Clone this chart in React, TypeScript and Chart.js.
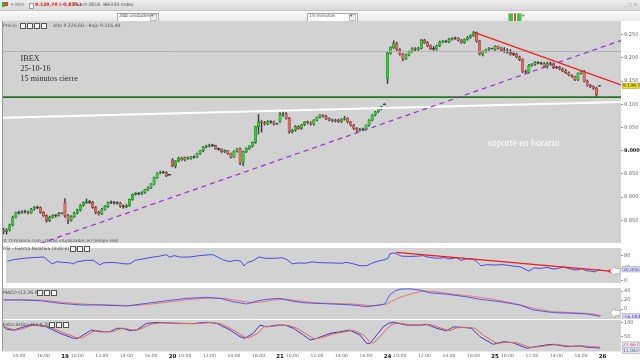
import React, { useEffect, useRef } from 'react';
import { Chart, registerables } from 'chart.js';

Chart.register(...registerables);

// ---------------- DATA ----------------
// time axis: one slot per 15-minute bar, 35 slots per session (09:00 .. 17:30)
// 18-oct starts at 12:45 (slot 0)
const sessionFirstSlot = [0, 20, 55, 90, 125, 160];
const slotMin = -0.5;
const slotMax = 201;

// [open, high, low, close]
const ohlc18 = [
  [8829, 8833, 8821, 8826], [8826, 8832, 8820, 8829], [8829, 8842, 8827, 8840], [8840, 8859, 8838, 8857],
  [8857, 8868, 8855, 8866], [8866, 8870, 8863, 8867], [8867, 8871, 8865, 8869], [8869, 8872, 8866, 8868],
  [8868, 8870, 8864, 8866], [8866, 8876, 8865, 8874], [8874, 8880, 8872, 8878], [8878, 8881, 8875, 8877],
  [8877, 8879, 8865, 8867], [8867, 8869, 8858, 8860], [8860, 8862, 8846, 8849], [8849, 8859, 8847, 8857],
  [8857, 8862, 8855, 8860], [8860, 8863, 8857, 8861], [8861, 8867, 8859, 8865], [8865, 8866, 8864, 8865],
];
const ohlc19 = [
  [8888, 8897, 8856, 8860], [8860, 8863, 8843, 8850], [8850, 8860, 8848, 8858], [8858, 8868, 8856, 8866],
  [8866, 8874, 8864, 8872], [8872, 8884, 8870, 8882], [8882, 8890, 8880, 8888], [8888, 8896, 8886, 8890],
  [8890, 8893, 8886, 8889], [8889, 8891, 8876, 8878], [8878, 8880, 8864, 8867], [8867, 8870, 8861, 8864],
  [8864, 8876, 8862, 8874], [8874, 8882, 8872, 8880], [8880, 8890, 8878, 8888], [8888, 8892, 8886, 8889],
  [8889, 8891, 8885, 8888], [8888, 8890, 8885, 8887], [8887, 8889, 8878, 8880], [8880, 8883, 8876, 8879],
  [8879, 8884, 8877, 8882], [8882, 8896, 8880, 8895], [8895, 8907, 8893, 8906], [8906, 8910, 8904, 8908],
  [8908, 8910, 8905, 8907], [8907, 8912, 8905, 8910], [8910, 8917, 8908, 8916], [8916, 8922, 8914, 8920],
  [8920, 8929, 8918, 8928], [8928, 8943, 8926, 8942], [8942, 8953, 8940, 8952], [8952, 8956, 8950, 8954],
  [8954, 8956, 8951, 8953], [8953, 8955, 8944, 8946], [8948, 8949, 8947, 8948],
];
const ohlc20 = [
  [8980, 8983, 8965, 8968], [8968, 8979, 8963, 8978], [8978, 8986, 8976, 8984], [8984, 8986, 8979, 8980],
  [8980, 8986, 8978, 8985], [8985, 8987, 8981, 8983], [8983, 8988, 8981, 8987], [8987, 8989, 8984, 8986],
  [8986, 8995, 8985, 8994], [8994, 9001, 8992, 9000], [9000, 9009, 8998, 9008], [9008, 9012, 9006, 9010],
  [9010, 9014, 9008, 9012], [9012, 9014, 9009, 9011], [9011, 9012, 9003, 9004], [9004, 9006, 9001, 9003],
  [9003, 9004, 8996, 8998], [8998, 9002, 8996, 9000], [9000, 9001, 8992, 8994], [8994, 8995, 8984, 8986],
  [8986, 9000, 8985, 8999], [8999, 9005, 8997, 9004], [9004, 9006, 8970, 8973], [8973, 8999, 8968, 8998],
  [8998, 9006, 8996, 9005], [9005, 9011, 9003, 9010], [9010, 9019, 9008, 9018], [9018, 9053, 9016, 9052],
  [9052, 9078, 9036, 9062], [9062, 9065, 9040, 9060], [9060, 9063, 9055, 9058], [9058, 9065, 9056, 9063],
  [9063, 9065, 9059, 9062], [9062, 9064, 9055, 9057], [9058, 9059, 9057, 9058],
];
const ohlc21 = [
  [9063, 9082, 9061, 9078], [9078, 9084, 9074, 9080], [9080, 9082, 9068, 9070], [9070, 9072, 9037, 9041],
  [9041, 9046, 9038, 9044], [9044, 9054, 9042, 9052], [9052, 9054, 9046, 9048], [9048, 9057, 9046, 9056],
  [9056, 9063, 9054, 9062], [9062, 9064, 9058, 9060], [9060, 9062, 9055, 9057], [9057, 9067, 9055, 9066],
  [9066, 9073, 9064, 9072], [9072, 9078, 9070, 9076], [9076, 9078, 9072, 9074], [9074, 9076, 9067, 9069],
  [9069, 9071, 9064, 9066], [9066, 9068, 9062, 9064], [9064, 9068, 9062, 9066], [9066, 9068, 9061, 9063],
  [9063, 9069, 9061, 9068], [9068, 9074, 9066, 9070], [9070, 9071, 9060, 9062], [9062, 9063, 9053, 9055],
  [9055, 9057, 9046, 9048], [9048, 9050, 9041, 9044], [9044, 9048, 9042, 9046], [9046, 9049, 9043, 9047],
  [9047, 9056, 9045, 9055], [9055, 9067, 9053, 9066], [9066, 9078, 9064, 9077], [9077, 9085, 9075, 9084],
  [9084, 9091, 9082, 9090], [9090, 9096, 9088, 9095], [9100, 9101, 9099, 9100],
];
const ohlc24 = [
  [9156, 9212, 9145, 9210], [9210, 9224, 9208, 9222], [9222, 9237, 9220, 9232], [9232, 9234, 9216, 9218],
  [9218, 9220, 9206, 9208], [9208, 9210, 9194, 9198], [9198, 9208, 9196, 9206], [9206, 9215, 9204, 9214],
  [9214, 9222, 9212, 9220], [9220, 9222, 9215, 9218], [9218, 9223, 9216, 9221], [9221, 9240, 9219, 9238],
  [9238, 9240, 9231, 9233], [9233, 9235, 9224, 9226], [9226, 9228, 9218, 9220], [9220, 9225, 9216, 9219],
  [9219, 9228, 9217, 9226], [9226, 9236, 9224, 9234], [9234, 9238, 9232, 9236], [9236, 9238, 9233, 9235],
  [9235, 9242, 9233, 9240], [9240, 9244, 9238, 9242], [9242, 9245, 9240, 9243], [9243, 9244, 9236, 9238],
  [9238, 9240, 9231, 9233], [9233, 9241, 9231, 9240], [9240, 9246, 9238, 9244], [9244, 9250, 9242, 9248],
  [9248, 9257, 9246, 9254], [9254, 9256, 9234, 9236], [9236, 9238, 9206, 9208], [9208, 9215, 9204, 9214],
  [9214, 9219, 9212, 9218], [9218, 9222, 9216, 9220], [9220, 9221, 9219, 9220],
];
const ohlc25 = [
  [9218, 9226.6, 9216, 9225], [9225, 9226, 9219, 9221], [9221, 9223, 9214, 9216], [9216, 9222, 9212, 9214],
  [9214, 9220, 9210, 9212], [9212, 9218, 9206, 9208], [9208, 9211, 9205, 9209], [9209, 9210, 9200, 9202],
  [9202, 9204, 9194, 9196], [9196, 9198, 9168, 9171], [9171, 9174, 9166, 9169], [9169, 9186, 9167, 9184],
  [9184, 9188, 9182, 9186], [9186, 9192, 9184, 9190], [9190, 9192, 9187, 9189], [9189, 9191, 9186, 9188],
  [9188, 9190, 9180, 9182], [9182, 9191, 9178, 9189], [9189, 9191, 9185, 9187], [9187, 9189, 9177, 9179],
  [9179, 9182, 9177, 9180], [9180, 9182, 9174, 9176], [9176, 9178, 9170, 9172], [9172, 9175, 9166, 9168],
  [9168, 9170, 9161, 9163], [9163, 9164, 9158, 9160], [9160, 9161, 9151, 9153], [9153, 9168, 9151, 9167],
  [9167, 9173, 9165, 9171], [9171, 9173, 9148, 9150], [9150, 9152, 9139, 9141], [9141, 9143, 9136, 9138],
  [9138, 9140, 9132, 9135], [9135, 9137, 9116.4, 9121], [9139.7, 9140.5, 9139, 9139.7],
];
const sessions = [ohlc18, ohlc19, ohlc20, ohlc21, ohlc24, ohlc25];

const priceTicks = [8850, 8900, 8950, 9000, 9050, 9100, 9150, 9200, 9250];
const lastPrice = 9139.7;
const lastPriceLabel = '9.139,70';

// drawn lines: [slot, price]
const supportLine = [[slotMin, 9115.3], [slotMax, 9115.3]];
const greyLine = [[slotMin, 9213.8], [slotMax, 9213.8]];
const whiteLine = [[slotMin, 9071], [slotMax, 9105]];
const purpleLine = [[11.9, 8800], [slotMax, 9237.5]];
const redLine = [[153.2, 9255], [slotMax, 9141.6]];

// RSI (14): [slot, value]
const rsiPoints = [[0,62],[2,67.6],[5.4,72],[8.6,74.6],[11.9,76],[14.6,54],[16.2,61],[18.4,58.7],[20.6,57],[21.6,54],[22.7,60.5],[25.4,65],[28.1,65.8],[30.3,50],[31.4,57],[33.6,58.7],[36.3,57],[38.5,54],[40.1,54],[41.7,65],[44.4,70],[47.7,76],[49.9,79],[52,84],[53.1,76],[54.7,80.7],[56.4,76],[59.6,76],[62.9,80.7],[67.2,84],[68.8,76],[70.5,67.6],[72.6,61],[74.8,65.8],[76.4,63],[77.5,47],[78.6,58.7],[80.2,63],[82.4,76],[84.6,72],[87.8,72],[90,74],[91.6,67.6],[93.3,54],[95.4,57],[97.6,56],[99.8,60.5],[102,58],[106.3,57],[109.5,56],[111.2,58.7],[113.3,54],[115.5,48],[117.7,48],[119.3,56],[121.5,63],[123.6,67.6],[124.7,72],[125.3,86.8],[126.4,89.5],[127.4,86.8],[129,79],[131.8,78],[134.5,79],[136.1,80.7],[137.7,76],[140.5,72],[143.2,74],[144.8,70],[147,74],[148.6,65],[150.2,70],[152.4,70],[154,58.7],[155.1,48],[157.3,51.6],[159.4,50],[162.2,51.6],[164.9,48],[168.1,44],[170.8,30.7],[172.5,41],[174.6,39],[176.8,43],[179,36.8],[180.6,40],[182.2,44],[183.8,39],[185.5,35],[187.1,35],[188.2,39],[189.3,32.5],[190.9,30.7],[192.5,28],[194.2,36.8]];
const rsiTrend = [[127.4, 91.3], [197.4, 30.8]];
const rsiTicks = [0, 20, 40, 60, 80, 100];
const rsiLabel = '30,006';

// MACD (12,26,9)
const macdPoints = [[0,20],[5.4,20],[11.9,18.5],[18.4,12.6],[25.4,8.9],[31.4,8.9],[40.1,6.7],[46.6,12.6],[53.1,18.5],[59.6,23.7],[66.1,26],[70.5,23.7],[74.8,16.3],[79.1,11.1],[82.4,17.8],[85.6,21.5],[90,23.7],[93.2,18.5],[97.6,14],[102,12.6],[109.5,10.4],[113.8,8.9],[118.2,5.2],[122.5,8.9],[124.1,11.1],[125.7,31],[127.4,40],[129,44],[132.2,45],[135.5,42],[138.8,36],[144.2,33],[150.8,27],[155.1,21.5],[161.6,16.3],[168.1,8.9],[172.5,-2.2],[179,-8],[185.5,-9.6],[189.8,-11],[194.2,-16.1]];
const signalPoints = [[0,21],[6,21],[13,19.5],[20,14.5],[27,10.5],[33,9.5],[42,7.5],[48,11],[55,16.5],[61,21.5],[67,24.5],[72,23.5],[77,18],[81,13.5],[84,16],[88,20],[92,22],[96,18],[100,15],[103,13.3],[113.8,11],[120.3,7.4],[124.7,11],[129,26],[133.3,35],[136.6,40],[139.9,39],[146.4,33],[152.9,28],[159.4,21.5],[165.9,13],[172.5,1.5],[179,-6],[185.5,-8],[192,-11],[194.7,-15]];
const macdTicks = [0, 20, 40];
const macdLast = -16.083;
const macdLabel = '-16,083';

// Estocástico (14-6.3)
const stochKPoints = [[0,84],[1,76],[3.2,72],[5.4,80],[9.2,92],[14,84],[18.4,61.7],[22.7,44.5],[24.3,44.5],[25.9,56],[28.6,73],[31.4,67],[34.6,67],[36.8,79],[38.9,79],[41.1,70.7],[43.3,73],[46.6,96],[49.9,99],[56.4,96],[61.8,95],[66.1,100],[69.4,96],[73.7,73],[77,50],[78.6,44.5],[81.3,61.7],[83.5,90],[85.6,84],[88.9,90],[91.6,90],[94.3,79],[97.6,56],[99.8,38.6],[102,44.5],[106.3,61.7],[109.5,67],[112.7,73],[116,56],[118.2,27],[119.3,27],[121.5,56],[123.6,84],[125.3,96],[126.9,100],[131.2,90],[135.5,90],[137.7,93],[141,79],[144.2,70],[146.4,84],[149.7,82],[152.4,79],[155.1,50],[159.4,23.7],[162.7,32.8],[165.9,29],[170.3,10],[173.5,16],[176.8,22],[179,23.7],[183.3,16],[187.7,18],[189.8,14],[194.2,11]];
const stochDPoints = [[0,86],[1.5,79],[4,73],[6.5,78],[9.5,90],[14.5,86],[19.5,64],[23.7,47],[25.5,46],[27.5,58],[30,72],[32.5,68],[35.5,67],[38,77],[40,78],[42.2,72],[44.5,76],[48,93],[51,98],[57.5,96],[63,95],[67.3,99],[70.6,95],[75,72],[78.2,50],[79.8,46],[82.6,60],[84.8,85],[86.8,85],[90.1,89],[92.8,89],[95.5,79],[98.8,58],[101,42],[103.5,47],[107.5,60],[110.7,66],[113.9,72],[117.2,56],[119.4,30],[120.5,29],[122.7,52],[124.8,78],[126.5,92],[128.1,98],[132.4,91],[136.7,90],[138.9,92],[142.2,80],[145.4,71],[147.6,81],[150.9,82],[153.6,79],[156.3,54],[160.6,27],[163.9,31],[167.1,29],[171.5,13],[174.7,16],[178,21],[180.2,23],[184.5,17],[188.9,18],[191,15],[194.2,14]];
const stochTicks = [50, 100];
const stochLabels = [[22.667, '22,667'], [11.042, '11,042']];

// x axis labels
const xTickSlots = [5, 13, 20, 24, 32, 40, 48, 55, 59, 67, 75, 83, 90, 94, 102, 110, 118, 125, 129, 137, 145, 153, 160, 164, 172, 180, 188, 195];
const xTickLabels = ['14:00', '16:00', '19', '10:00', '12:00', '14:00', '16:00', '20', '10:00', '12:00', '14:00', '16:00', '21', '10:00', '12:00', '14:00', '16:00', '24', '10:00', '12:00', '14:00', '16:00', '25', '10:00', '12:00', '14:00', '16:00', '26'];

// ---------------- STYLE HELPERS ----------------
const FONT = 'DejaVu Sans';
const PANEL = '#d2d2d2';

const toXY = (pts: number[][]) => pts.map((p) => ({ x: p[0], y: p[1] }));

const panelBg = {
  id: 'panelBg',
  beforeDraw(chart: any) {
    const a = chart.chartArea;
    const ctx = chart.ctx;
    ctx.save();
    ctx.fillStyle = PANEL;
    ctx.fillRect(a.left, a.top, a.right - a.left, a.bottom - a.top);
    ctx.restore();
  },
};

function valueBox(chart: any, y: number, text: string, color: string, bg: string) {
  const ctx = chart.ctx;
  const a = chart.chartArea;
  const x0 = a.right + 1;
  const w = chart.width - x0 - 0.5;
  ctx.save();
  ctx.fillStyle = bg;
  ctx.fillRect(x0, y - 3, w, 6);
  ctx.strokeStyle = '#9a9aaa';
  ctx.lineWidth = 0.5;
  ctx.strokeRect(x0 + 0.25, y - 2.75, w - 0.5, 5.5);
  ctx.fillStyle = color;
  ctx.font = `4.5px "${FONT}"`;
  ctx.textBaseline = 'middle';
  ctx.fillText(text, x0 + 1, y + 0.3);
  ctx.restore();
}

function arrow(chart: any, y: number) {
  const ctx = chart.ctx;
  const x = chart.chartArea.right - 11;
  ctx.save();
  ctx.beginPath();
  ctx.moveTo(x, y);
  ctx.lineTo(x + 5, y - 5);
  ctx.lineTo(x + 5, y - 2.5);
  ctx.lineTo(x + 10, y - 2.5);
  ctx.lineTo(x + 10, y + 2.5);
  ctx.lineTo(x + 5, y + 2.5);
  ctx.lineTo(x + 5, y + 5);
  ctx.closePath();
  ctx.fillStyle = '#ffffff';
  ctx.fill();
  ctx.strokeStyle = '#a8a8a8';
  ctx.lineWidth = 0.7;
  ctx.stroke();
  ctx.restore();
}

function yAxis(min: number, max: number, ticks: number[], fmt: (v: number) => string, bold?: number) {
  return {
    position: 'right',
    min,
    max,
    afterBuildTicks: (s: any) => {
      s.ticks = ticks.map((v) => ({ value: v }));
    },
    afterFit: (s: any) => {
      s.width = 19;
      s.paddingTop = 0;
      s.paddingBottom = 0;
    },
    grid: { drawOnChartArea: false, tickLength: 2, color: '#9a9a9a' },
    border: { display: false },
    ticks: {
      padding: 1,
      color: (c: any) => (bold !== undefined && c.tick && c.tick.value === bold ? '#111' : '#666'),
      font: (c: any) => ({ family: FONT, size: 5, weight: bold !== undefined && c.tick && c.tick.value === bold ? 'bold' : 'normal' }),
      callback: (v: any) => fmt(Number(v)),
    },
  };
}

const hiddenX = {
  type: 'linear',
  min: slotMin,
  max: slotMax,
  display: false,
  offset: false,
  grid: { offset: false },
  afterFit: (s: any) => {
    s.paddingLeft = 0;
    s.paddingRight = 0;
  },
};

const lineDs = (pts: number[][], color: string, width: number, extra: any = {}) => ({
  type: 'line',
  data: toXY(pts),
  borderColor: color,
  borderWidth: width,
  pointRadius: 0,
  tension: 0,
  fill: false,
  ...extra,
});

const baseOpts = {
  responsive: false,
  animation: false,
  maintainAspectRatio: false,
  layout: { padding: 0 },
  plugins: { legend: { display: false }, tooltip: { enabled: false } },
  events: [],
};

// ---------------- COMPONENT ----------------
export default function App() {
  const mainRef = useRef<HTMLCanvasElement>(null);
  const rsiRef = useRef<HTMLCanvasElement>(null);
  const macdRef = useRef<HTMLCanvasElement>(null);
  const stochRef = useRef<HTMLCanvasElement>(null);

  useEffect(() => {
    const charts: Chart[] = [];

    const candles: { x: number; o: number; h: number; l: number; c: number }[] = [];
    sessions.forEach((s, di) =>
      s.forEach((b, i) => candles.push({ x: sessionFirstSlot[di] + i, o: b[0], h: b[1], l: b[2], c: b[3] }))
    );
    const isDoji = (k: any) => Math.abs(k.c - k.o) < 1.6;
    const bodyData = candles.map((k) => {
      const lo = Math.min(k.o, k.c);
      const hi = Math.max(k.o, k.c);
      const m = (lo + hi) / 2;
      return { x: k.x, y: isDoji(k) ? [m - 0.9, m + 0.9] : [lo, hi] };
    });
    const bodyFill = candles.map((k) => (isDoji(k) ? '#4a4a4a' : k.c > k.o ? '#36cf36' : '#e06a6a'));
    const bodyEdge = candles.map((k) => (isDoji(k) ? '#333333' : k.c > k.o ? '#1e7a1e' : '#8a3434'));
    const wickData = candles.map((k) => ({ x: k.x, y: [k.l, k.h] }));

    const priceFmt = (v: number) => {
      const s = v.toFixed(0);
      return s[0] + '.' + s.slice(1);
    };

    // ---- main price chart (line base type so the x axis keeps no offset)
    charts.push(
      new Chart(mainRef.current as HTMLCanvasElement, {
        type: 'line',
        data: {
          datasets: [
            lineDs(redLine, '#ee1c1c', 1.2),
            lineDs(purpleLine, '#9a2fd0', 1.2, { borderDash: [5, 4] }),
            lineDs(supportLine, '#1f7a1f', 1.8),
            lineDs(whiteLine, '#ffffff', 1.8),
            lineDs(greyLine, '#acacac', 0.8),
            {
              type: 'bar',
              data: bodyData,
              backgroundColor: bodyFill,
              borderColor: bodyEdge,
              borderWidth: 0.5,
              borderSkipped: false,
              barThickness: 2.5,
              grouped: false,
            },
            {
              type: 'bar',
              data: wickData,
              backgroundColor: '#3a3a3a',
              borderWidth: 0,
              barThickness: 0.8,
              grouped: false,
            },
          ] as any,
        },
        options: {
          ...baseOpts,
          scales: {
            x: hiddenX,
            y: yAxis(8801.1, 9279.5, priceTicks, priceFmt, 9000),
          },
        } as any,
        plugins: [
          panelBg,
          {
            id: 'priceBox',
            afterDraw(chart: any) {
              const y = chart.scales.y.getPixelForValue(lastPrice);
              valueBox(chart, y, lastPriceLabel, '#222', '#f2e21a');
            },
          },
        ],
      })
    );

    // ---- RSI
    charts.push(
      new Chart(rsiRef.current as HTMLCanvasElement, {
        type: 'line',
        data: {
          datasets: [
            lineDs(rsiTrend, '#ee1c1c', 1.2, { pointRadius: [0, 1.6], pointBackgroundColor: '#ee1c1c', pointBorderWidth: 0 }),
            lineDs(rsiPoints, '#3a3ae6', 0.9),
          ] as any,
        },
        options: {
          ...baseOpts,
          scales: { x: hiddenX, y: yAxis(-7.9, 105.3, rsiTicks, (v) => String(v)) },
        } as any,
        plugins: [
          panelBg,
          {
            id: 'rsiBox',
            afterDraw(chart: any) {
              const ys = chart.scales.y;
              arrow(chart, ys.getPixelForValue(rsiTrend[1][1]));
              valueBox(chart, ys.getPixelForValue(rsiPoints[rsiPoints.length - 1][1]), rsiLabel, '#3a3ad0', '#e2e2f2');
            },
          },
        ],
      })
    );

    // ---- MACD
    charts.push(
      new Chart(macdRef.current as HTMLCanvasElement, {
        type: 'line',
        data: {
          datasets: [
            lineDs(macdPoints, '#4a4ae8', 0.9),
            lineDs(signalPoints, '#e87070', 0.9),
          ] as any,
        },
        options: {
          ...baseOpts,
          scales: { x: hiddenX, y: yAxis(-22.2, 46.7, macdTicks, (v) => String(v)) },
        } as any,
        plugins: [
          panelBg,
          {
            id: 'macdBox',
            afterDraw(chart: any) {
              const ys = chart.scales.y;
              arrow(chart, ys.getPixelForValue(-9));
              valueBox(chart, ys.getPixelForValue(macdLast), macdLabel, '#3a3ad0', '#e2e2f2');
            },
          },
        ],
      })
    );

    // ---- Stochastic + time axis
    charts.push(
      new Chart(stochRef.current as HTMLCanvasElement, {
        type: 'line',
        data: {
          datasets: [
            lineDs(stochDPoints, '#d86464', 1),
            lineDs(stochKPoints, '#3c3cb8', 1),
          ] as any,
        },
        options: {
          ...baseOpts,
          scales: {
            x: {
              type: 'linear',
              min: slotMin,
              max: slotMax,
              position: 'bottom',
              offset: false,
              afterBuildTicks: (s: any) => {
                s.ticks = xTickSlots.map((v) => ({ value: v }));
              },
              afterFit: (s: any) => {
                s.height = 10.5;
                s.paddingLeft = 0;
                s.paddingRight = 0;
              },
              grid: { display: false, drawTicks: false },
              border: { display: false },
              ticks: {
                autoSkip: false,
                maxRotation: 0,
                padding: 2,
                callback: (_v: any, i: number) => xTickLabels[i],
                color: (c: any) => (xTickLabels[c.index] && xTickLabels[c.index].length <= 2 ? '#111' : '#666'),
                font: (c: any) => {
                  const day = xTickLabels[c.index] && xTickLabels[c.index].length <= 2;
                  return { family: FONT, size: day ? 5.5 : 4.5, weight: day ? 'bold' : 'normal' };
                },
              },
            },
            y: yAxis(-1, 107.6, stochTicks, (v) => String(v)),
          },
        } as any,
        plugins: [
          panelBg,
          {
            id: 'stochBox',
            afterDraw(chart: any) {
              const ys = chart.scales.y;
              let prev = -100;
              stochLabels.forEach((s, i) => {
                let y = ys.getPixelForValue(s[0] as number);
                if (y < prev + 6) y = prev + 6;
                prev = y;
                valueBox(chart, y, s[1] as string, i === 0 ? '#c04848' : '#3a3a90', '#ececf4');
              });
            },
          },
        ],
      })
    );

    return () => charts.forEach((c) => c.destroy());
  }, []);

  const t = (left: number, top: number, text: string, style: any = {}) => (
    <div style={{ position: 'absolute', left, top, fontSize: 4.6, lineHeight: '6px', color: '#555', whiteSpace: 'nowrap', ...style }}>{text}</div>
  );
  const iconBox = (left: number, top: number) => (
    <div style={{ position: 'absolute', left, top, width: 4, height: 4, border: '0.6px solid #555', background: '#f4f4f4' }} />
  );

  return (
    <div style={{ position: 'fixed', left: 0, top: 0, width: 640, height: 362, background: '#ffffff', overflow: 'hidden', fontFamily: FONT }}>
      {/* title bar */}
      <div style={{ position: 'absolute', left: 0, top: 0, width: 640, height: 10, background: 'linear-gradient(#ededed, #d9d9d9)', borderBottom: '1px solid #c4c4c4' }} />
      <div style={{ position: 'absolute', left: 2, top: 2, width: 3, height: 5, background: '#2fb52f' }} />
      <div style={{ position: 'absolute', left: 5, top: 1.5, width: 3, height: 4, background: '#e04040' }} />
      {t(11, 2, '▾ INDI', { color: '#777' })}
      <div style={{ position: 'absolute', left: 29, top: 2.5, width: 3, height: 4, border: '0.6px solid #999', background: '#fff' }} />
      {t(35, 2, '9.139,70 (-0,83%)', { color: '#e01515', fontWeight: 'bold' })}
      {t(72, 2, '25-oct-2016', { color: '#444' })}
      {t(103, 2, 'IBEX35 Index', { color: '#444' })}
      {t(624, 1.5, '_ □ ×', { color: '#888' })}

      {/* toolbar */}
      <div style={{ position: 'absolute', left: 0, top: 11, width: 640, height: 10, background: 'linear-gradient(#fbfbfb, #e9e9e9)' }} />
      <div style={{ position: 'absolute', left: 117, top: 12.5, width: 40, height: 7, border: '0.6px solid #aaa', background: '#fff' }} />
      {t(119, 13, '200 unidades', { color: '#444' })}
      <div style={{ position: 'absolute', left: 150, top: 13.5, width: 5, height: 5, border: '0.6px solid #bbb', background: '#eee' }} />
      {t(151, 13, '▾', { color: '#555' })}
      <div style={{ position: 'absolute', left: 307, top: 12.5, width: 49, height: 7, border: '0.6px solid #aaa', background: '#fff' }} />
      {t(309, 13, '15 minutos', { color: '#444' })}
      <div style={{ position: 'absolute', left: 349, top: 13.5, width: 5, height: 5, border: '0.6px solid #bbb', background: '#eee' }} />
      {t(350, 13, '▾', { color: '#555' })}
      <div style={{ position: 'absolute', left: 508, top: 12.5, width: 12, height: 7, border: '0.6px solid #bbb', background: 'linear-gradient(90deg, #3c3 0 30%, #fff 30% 40%, #d44 40% 60%, #fff 60% 70%, #3c3 70%)' }} />
      {t(522, 13, '▾', { color: '#555' })}

      {/* canvases */}
      <canvas ref={mainRef} width={638} height={222} style={{ position: 'absolute', left: 2, top: 21 }} />
      <canvas ref={rsiRef} width={638} height={43} style={{ position: 'absolute', left: 2, top: 244 }} />
      <canvas ref={macdRef} width={638} height={31} style={{ position: 'absolute', left: 2, top: 288 }} />
      <canvas ref={stochRef} width={638} height={42} style={{ position: 'absolute', left: 2, top: 320 }} />
      <div style={{ position: 'absolute', left: 2, top: 21, width: 0.8, height: 330, background: '#9a9a9a' }} />

      {/* price panel header */}
      {t(3, 22.5, 'Precio', { color: '#555' })}
      {iconBox(20, 23)}
      {iconBox(27, 23)}
      {iconBox(34, 23)}
      {iconBox(41, 23)}
      {t(53, 22.5, 'Alto 9.226,60 - Bajo 9.116,40', { color: '#555' })}

      {/* annotations */}
      <div style={{ position: 'absolute', left: 20.5, top: 54, fontFamily: 'Liberation Serif', fontSize: 8.2, lineHeight: '10px', color: '#2a2a2a', whiteSpace: 'pre' }}>
        {'IBEX\n25-10-16\n15 minutos cierre'}
      </div>
      <div style={{ position: 'absolute', left: 488, top: 137, fontFamily: 'Liberation Serif', fontSize: 9.8, lineHeight: '11px', color: '#ffffff', whiteSpace: 'nowrap' }}>
        soporte en horario
      </div>
      {t(3, 237.5, '© IT-Finance.com - Datos visualizados en tiempo real', { color: '#555', fontSize: 4.3 })}

      {/* indicator headers */}
      {t(3, 245.5, 'RSI - Fuerza Relativa (índice) (14)', { color: '#444' })}
      {iconBox(70, 246)}
      {iconBox(77, 246)}
      {iconBox(84, 246)}
      {t(3, 289.5, 'MACD (12.26.9)', { color: '#444' })}
      {iconBox(37, 290)}
      {iconBox(44, 290)}
      {iconBox(51, 290)}
      {t(3, 321.5, 'Estocástico (14-6.3)', { color: '#444' })}
      {iconBox(49, 322)}
      {iconBox(56, 322)}
      {iconBox(63, 322)}
    </div>
  );
}
